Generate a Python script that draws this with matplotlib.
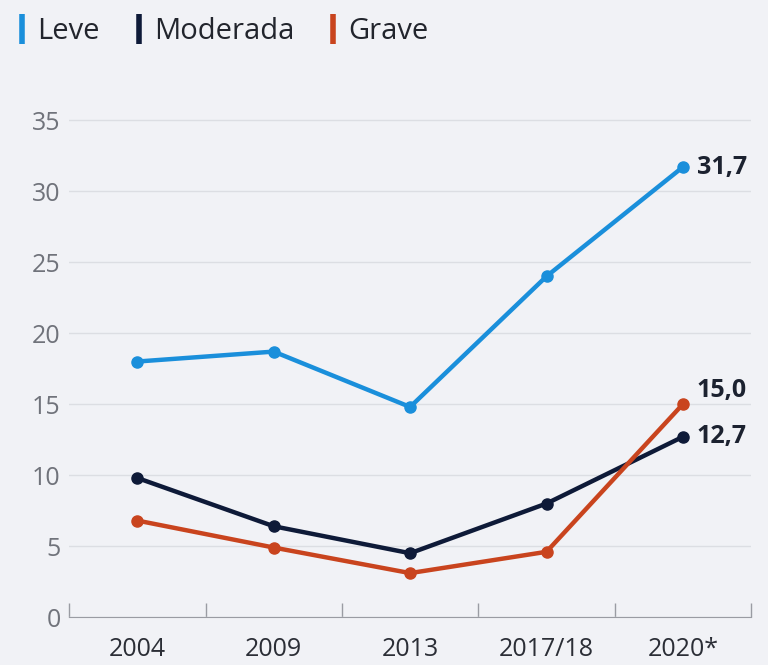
import matplotlib.pyplot as plt
from matplotlib.lines import Line2D

plt.rcParams["font.family"] = ["Open Sans", "DejaVu Sans"]

years = ["2004", "2009", "2013", "2017/18", "2020*"]
leve = [18.0, 18.7, 14.8, 24.0, 31.7]
moderada = [9.8, 6.4, 4.5, 8.0, 12.7]
grave = [6.8, 4.9, 3.1, 4.6, 15.0]

series = [("Leve", leve, "#1a8fdb"), ("Moderada", moderada, "#0e1a38"), ("Grave", grave, "#c9441e")]
end_labels = {"Leve": "31,7", "Moderada": "12,7", "Grave": "15,0"}
end_offsets = {"Leve": 0, "Moderada": 0, "Grave": 10}

bg = "#f1f2f6"
fig = plt.figure(figsize=(7.68, 6.65), dpi=100, facecolor=bg)
ax = fig.add_axes([0.09, 0.072, 0.888, 0.758], facecolor=bg)

x = list(range(len(years)))
for name, vals, col in series:
    ax.plot(x, vals, color=col, lw=3.2, marker="o", ms=8, zorder=3, solid_capstyle="round")
    ax.annotate(end_labels[name], (x[-1], vals[-1]), xytext=(10, end_offsets[name]),
                textcoords="offset points", va="center", ha="left",
                fontsize=18, fontweight="bold", color="#1c2230")

ax.set_xlim(-0.5, 4.5)
ax.set_ylim(0, 35.5)
ax.set_yticks(range(0, 36, 5))
ax.set_xticks(x)
ax.set_xticklabels(years)
ax.grid(axis="y", color="#dcdee3", lw=1)
ax.set_axisbelow(True)
for s in ["top", "right", "left"]:
    ax.spines[s].set_visible(False)
ax.spines["bottom"].set_color("#9a9ca3")
ax.tick_params(axis="y", length=0, labelsize=18, labelcolor="#70737b", pad=6)
ax.tick_params(axis="x", length=0, labelsize=18, labelcolor="#2b2e36", pad=14)
# minor ticks at category boundaries
ax.set_xticks([-0.5, 0.5, 1.5, 2.5, 3.5, 4.5], minor=True)
ax.tick_params(axis="x", which="minor", length=10, direction="in", color="#9a9ca3", width=1)

handles = [Line2D([0], [0], color=c, lw=0, marker="|", ms=22, mew=4) for _, _, c in series]
fig.legend(handles, [n for n, _, _ in series], loc="upper left", bbox_to_anchor=(-0.014, 1.014),
           ncol=3, frameon=False, fontsize=21, handlelength=0.45, handletextpad=0.3,
           columnspacing=1.1, labelcolor="#22252d")

fig.savefig("out.png", dpi=100, facecolor=bg)
